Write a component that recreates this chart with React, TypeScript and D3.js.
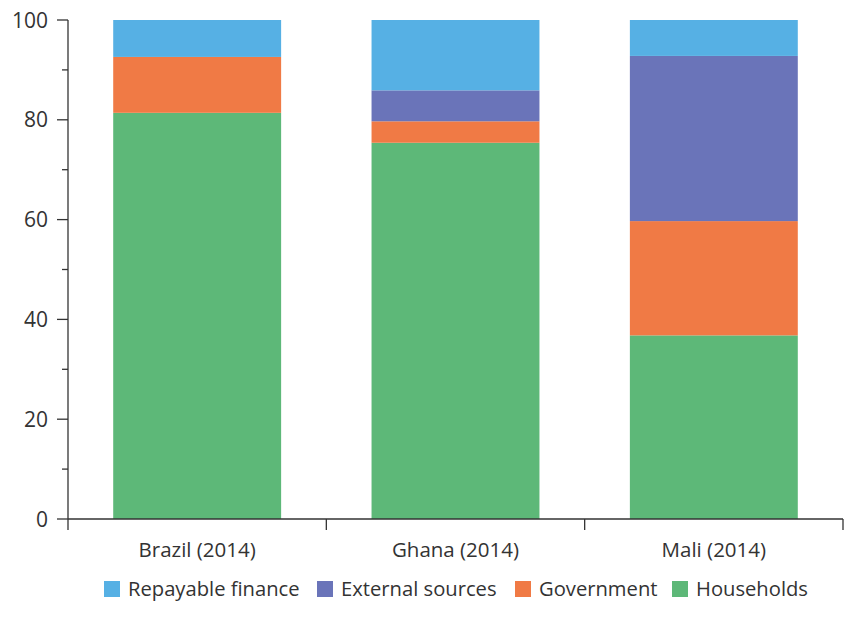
import React from "react";
import * as d3 from "d3";

const categories = ["Brazil (2014)", "Ghana (2014)", "Mali (2014)"];
const seriesNames = ["Households", "Government", "External sources", "Repayable finance"];
const households = [81.4, 75.4, 36.8];
const government = [11.2, 4.3, 22.9];
const externalSources = [0, 6.2, 33.1];
const repayableFinance = [7.4, 14.1, 7.2];
const yTicks = [0, 20, 40, 60, 80, 100];
const colors = ["#5DB878", "#F07A45", "#6A74B9", "#56B0E4"];

const W = 845, H = 619;
const margin = { left: 68, right: 2, top: 20, bottom: 100 };
const font = "'Open Sans', sans-serif";
const textColor = "#333";

export default function App() {
  const x = d3.scaleBand().domain(categories).range([margin.left, W - margin.right]).paddingInner(0.35).paddingOuter(0.175);
  const xOuter = d3.scaleBand().domain(categories).range([margin.left, W - margin.right]);
  const y = d3.scaleLinear().domain([0, 100]).range([H - margin.bottom, margin.top]);
  const rows = categories.map((c, i) => ({
    cat: c,
    Households: households[i],
    Government: government[i],
    "External sources": externalSources[i],
    "Repayable finance": repayableFinance[i],
  }));
  const stack = d3.stack<any>().keys(seriesNames)(rows);
  const minor = d3.range(10, 100, 20);
  const y0 = y(0);
  const legendItems = [
    { name: "Repayable finance", color: colors[3], x: 104 },
    { name: "External sources", color: colors[2], x: 317 },
    { name: "Government", color: colors[1], x: 515 },
    { name: "Households", color: colors[0], x: 672 },
  ];
  return (
    <svg width={W} height={H} style={{ display: "block", position: "absolute", left: 0, top: 0 }} fontFamily={font}>
      {stack.map((s, si) => (
        <g key={si} fill={colors[si]}>
          {s.map((d, i) => (
            <rect key={i} x={x(categories[i])} width={x.bandwidth()} y={y(d[1])} height={Math.max(0, y(d[0]) - y(d[1]))} />
          ))}
        </g>
      ))}
      <g stroke={textColor} strokeWidth={1.3}>
        <line x1={margin.left} x2={margin.left} y1={y(100)} y2={y0 + 11} />
        <line x1={margin.left} x2={W - margin.right} y1={y0} y2={y0} />
        {yTicks.map((t) => (
          <line key={t} x1={margin.left - 11} x2={margin.left} y1={y(t)} y2={y(t)} />
        ))}
        {minor.map((t) => (
          <line key={t} x1={margin.left - 6} x2={margin.left} y1={y(t)} y2={y(t)} />
        ))}
        {categories.map((c) => (
          <line key={c} x1={(xOuter(c) as number) + xOuter.bandwidth()} x2={(xOuter(c) as number) + xOuter.bandwidth()} y1={y0} y2={y0 + 11} />
        ))}
      </g>
      {yTicks.map((t) => (
        <text key={t} x={48} y={y(t)} dy="0.36em" textAnchor="end" fontSize={21} fill={textColor}>{t}</text>
      ))}
      {categories.map((c) => (
        <text key={c} x={(xOuter(c) as number) + xOuter.bandwidth() / 2} y={557} textAnchor="middle" fontSize={20.5} fill={textColor}>{c}</text>
      ))}
      {legendItems.map((l) => (
        <g key={l.name}>
          <rect x={l.x} y={581} width={16} height={16} fill={l.color} />
          <text x={l.x + 24} y={596} fontSize={20.2} fill={textColor}>{l.name}</text>
        </g>
      ))}
    </svg>
  );
}
